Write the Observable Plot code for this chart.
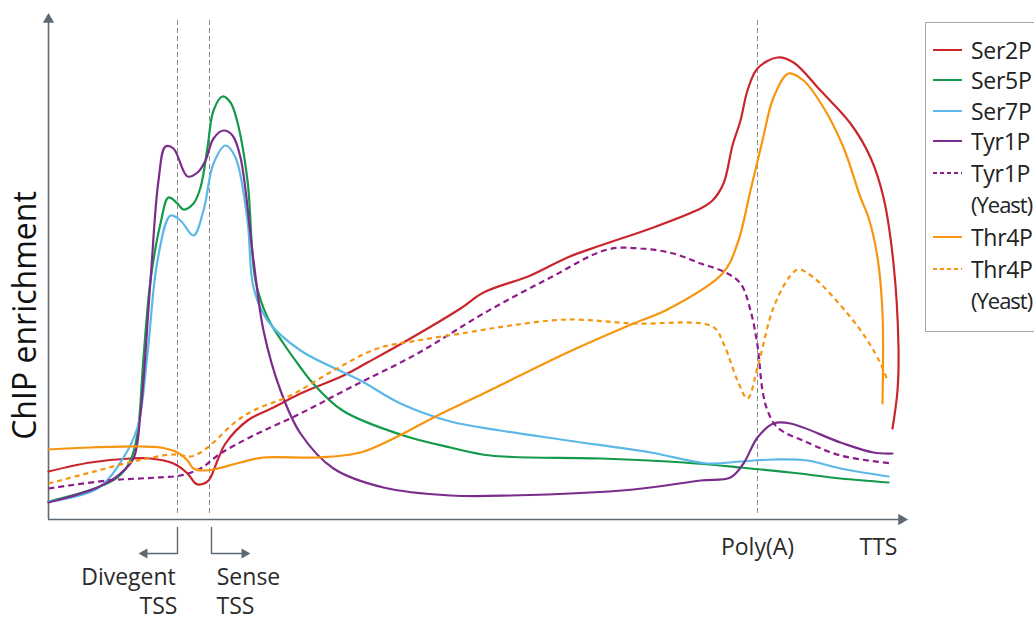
<!DOCTYPE html>
<html>
<head>
<meta charset="utf-8">
<script src="https://cdn.jsdelivr.net/npm/d3@7"></script>
<script src="https://cdn.jsdelivr.net/npm/@observablehq/plot@0.6"></script>
<style>
  html, body { margin: 0; padding: 0; background: #fff; }
  #wrap { position: relative; width: 1034px; height: 620px; overflow: hidden; font-family: "Open Sans", "Noto Sans", sans-serif; }
  #chart { position: absolute; left: 0; top: 0; }
  #legend { position: absolute; left: 925px; top: 22px; width: 130px; height: 310px; border: 1px solid #a8a8a8; box-sizing: border-box; background: #fff; }
  .row { position: absolute; left: 0; height: 30px; display: flex; align-items: center; }
  .row svg { margin-left: 6px; margin-right: 8px; }
  .row span { font-size: 23px; color: #222; letter-spacing: -0.3px; }
  .sub { position: absolute; left: 45px; height: 30px; line-height: 30px; font-size: 22px; color: #222; letter-spacing: -1px; }
</style>
</head>
<body>
<div id="wrap">
  <div id="chart"></div>
  <div id="legend"></div>
</div>
<script>
// Series: [position along gene, ChIP enrichment]
const ser2P = [[0,48],[42,57],[82,61],[102,61],[125,56],[139,46],[147,36],[152,35],[160,39],[169,59],[177,76],[199,99],[225,112],[252,126],[295,144],[319,157],[355,177],[412,211],[435,227],[482,244],[519,262],[552,274],[602,291],[652,311],[664,319],[675,336],[684,374],[692,399],[699,429],[709,451],[729,462],[745,457],[772,429],[802,396],[822,362],[835,322],[845,256],[850,172],[849,129],[844,91]];
const ser5P = [[0,18],[49,32],[69,42],[82,59],[89,86],[95,162],[102,239],[112,296],[120,322],[129,316],[135,310],[145,316],[152,332],[159,372],[165,409],[174,423],[182,417],[189,397],[199,339],[207,239],[219,202],[235,176],[252,152],[262,139],[294,109],[355,84],[402,72],[442,64],[552,61],[635,57],[692,52],[742,47],[792,41],[840,37]];
const ser7P = [[0,18],[49,31],[75,62],[89,92],[99,166],[109,259],[122,304],[132,299],[145,284],[155,309],[165,356],[177,374],[187,362],[199,299],[205,232],[219,199],[252,169],[312,139],[352,116],[402,98],[452,89],[519,79],[602,67],[659,56],[692,58],[725,60],[759,59],[792,51],[840,43]];
const tyr1P = [[0,17],[49,32],[72,46],[85,61],[92,106],[102,239],[110,339],[117,373],[125,371],[139,343],[149,347],[157,359],[165,381],[175,389],[184,384],[192,362],[205,259],[215,189],[232,129],[252,86],[285,51],[335,32],[402,24],[462,24],[585,30],[652,39],[682,42],[695,56],[709,82],[725,96],[742,96],[792,77],[825,67],[844,66]];
const tyr1PYeast = [[0,31],[59,39],[109,42],[132,44],[152,51],[172,66],[205,84],[252,106],[302,132],[369,166],[435,206],[502,242],[559,270],[592,271],[625,266],[652,256],[675,248],[692,236],[702,209],[709,174],[714,129],[719,109],[729,92],[759,77],[792,64],[844,56]];
const thr4P = [[0,70],[42,72],[92,73],[112,72],[129,67],[139,59],[145,51],[155,49],[165,50],[192,57],[215,62],[269,62],[312,67],[345,81],[389,104],[435,126],[519,167],[585,196],[619,210],[674,246],[689,276],[702,329],[714,379],[725,422],[740,446],[755,439],[775,412],[795,372],[812,322],[820,302],[829,262],[834,206],[834,116]];
const thr4PYeast = [[0,36],[42,47],[89,59],[125,65],[142,63],[152,67],[165,77],[185,96],[205,109],[242,124],[285,149],[329,171],[369,179],[419,187],[462,194],[519,200],[585,196],[664,193],[675,176],[689,139],[699,121],[710,156],[725,212],[742,244],[750,250],[765,242],[799,206],[819,179],[832,156],[839,139]];

const seriesNames = ["Ser2P","Ser5P","Ser7P","Tyr1P","Tyr1P (Yeast)","Thr4P","Thr4P (Yeast)"];
const seriesData  = [ser2P, ser5P, ser7P, tyr1P, tyr1PYeast, thr4P, thr4PYeast];
const seriesColors = ["#c9262c","#139a4a","#5cb8e6","#7b2d8c","#8e1d8a","#f7950f","#f7950f"];
const seriesDash = [null,null,null,null,"6,4",null,"5,4"];

// Landmarks along the gene
const guideLabels = ["Divegent", "TSS", "Sense", "TSS", "Poly(A)"];
const guidePositions = [129, 161, 709];
const endLabel = "TTS";
const endPosition = 830;
const yLabel = "ChIP enrichment";

const axisColor = "#5d6870";
const textColor = "#2b2b2b";

const marks = [];
// guide lines
marks.push(Plot.ruleX(guidePositions, {y1: 6, y2: 501, stroke: "#8c8c8c", strokeWidth: 1, strokeDasharray: "5,3"}));
// axes
marks.push(Plot.ruleY([0], {x1: 0, x2: 852, stroke: axisColor, strokeWidth: 1.6}));
marks.push(Plot.ruleX([0], {y1: 0, y2: 497, stroke: axisColor, strokeWidth: 1.6}));
marks.push(Plot.dot([{x: 853, y: 0, r: 90}], {x: "x", y: "y", rotate: "r", symbol: "triangle", r: 4.2, fill: axisColor, stroke: "none"}));
marks.push(Plot.dot([{x: 0, y: 500, r: 0}], {x: "x", y: "y", rotate: "r", symbol: "triangle", r: 4.2, fill: axisColor, stroke: "none"}));

// series lines
seriesData.forEach((data, i) => {
  marks.push(Plot.line(data, {
    x: d => d[0], y: d => d[1], curve: "catmull-rom",
    stroke: seriesColors[i], strokeWidth: 2.2,
    strokeDasharray: seriesDash[i] || undefined,
    strokeLinejoin: "round", strokeLinecap: seriesDash[i] ? "butt" : "round"
  }));
});

// TSS brackets
const divX = guidePositions[0], senX = guidePositions[1] + 2;
marks.push(Plot.line([[divX,-8],[divX,-34],[divX-32,-34]], {x: d=>d[0], y: d=>d[1], stroke: axisColor, strokeWidth: 1.4}));
marks.push(Plot.line([[senX,-8],[senX,-34],[senX+32,-34]], {x: d=>d[0], y: d=>d[1], stroke: axisColor, strokeWidth: 1.4}));
marks.push(Plot.dot([{x: divX-33, y: -34, r: -90},{x: senX+33, y: -34, r: 90}], {x: "x", y: "y", rotate: "r", symbol: "triangle", r: 3.8, fill: axisColor, stroke: "none"}));

// labels
const labelFont = "'Open Sans', 'Noto Sans', sans-serif";
marks.push(Plot.text([
  {t: guideLabels[0], x: divX-49, y: -58},
  {t: guideLabels[1], x: divX-19, y: -87},
  {t: guideLabels[2], x: senX+37, y: -58},
  {t: guideLabels[3], x: senX+24, y: -87},
  {t: guideLabels[4], x: guidePositions[2], y: -28},
  {t: endLabel, x: endPosition, y: -28}
], {x: "x", y: "y", text: "t", fontSize: 23, fill: textColor, fontFamily: labelFont, textAnchor: "middle", letterSpacing: "-0.2px"}));

marks.push(Plot.text([yLabel], {x: -23, y: 204, rotate: -90, fontSize: 32, fill: "#111", fontFamily: labelFont, textAnchor: "middle", letterSpacing: "0.2px"}));

const chart = Plot.plot({
  width: 920, height: 620,
  marginLeft: 48, marginRight: 20, marginTop: 12, marginBottom: 101,
  x: {domain: [0, 852], axis: null},
  y: {domain: [0, 507], axis: null},
  style: {background: "transparent", overflow: "visible"},
  marks
});
document.getElementById("chart").appendChild(chart);

// legend
const legend = document.getElementById("legend");
const rows = [
  {i: 0, top: 12}, {i: 1, top: 42}, {i: 2, top: 73}, {i: 3, top: 103},
  {i: 4, top: 135, sub: 166}, {i: 5, top: 199}, {i: 6, top: 231, sub: 262}
];
rows.forEach(r => {
  const div = document.createElement("div");
  div.className = "row";
  div.style.top = r.top + "px";
  const dash = seriesDash[r.i] ? `stroke-dasharray="4,3"` : "";
  div.innerHTML = `<svg width="31" height="4"><line x1="1" x2="30" y1="2" y2="2" stroke="${seriesColors[r.i]}" stroke-width="2" ${dash}/></svg><span>${seriesNames[r.i].split(" ")[0]}</span>`;
  legend.appendChild(div);
  if (r.sub) {
    const s = document.createElement("div");
    s.className = "sub";
    s.style.top = (r.sub) + "px";
    s.textContent = seriesNames[r.i].split(" ")[1];
    legend.appendChild(s);
  }
});
</script>
</body>
</html>
